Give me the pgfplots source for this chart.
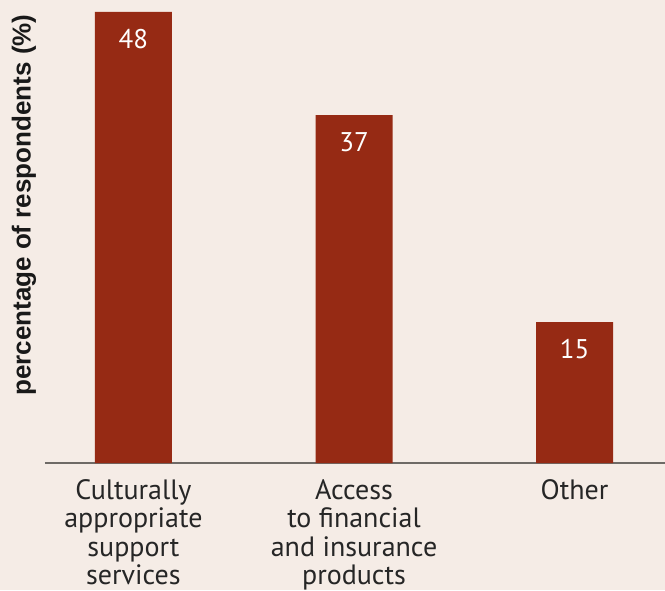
\documentclass[border=0pt]{standalone}
\usepackage{pgfplots}
\pgfplotsset{compat=1.18}
\usepackage{fontspec}
\setmainfont{PT Sans}
\newfontfamily\labfont{Liberation Sans}
\definecolor{bg}{HTML}{F5ECE6}
\definecolor{barc}{HTML}{962A14}
\definecolor{axc}{HTML}{6E6A66}
\begin{document}
\begin{tikzpicture}[x=1pt,y=1pt]
\fill[bg] (-45,-127) rectangle (620,463);
\path[use as bounding box] (-45,-127) rectangle (620,463);
\begin{axis}[
  at={(0,0)}, anchor=south west,
  scale only axis, width=620pt, height=463pt,
  xmin=-0.401, xmax=2.41, ymin=0, ymax=49.26,
  axis y line=none,
  axis x line*=bottom,
  x axis line style={axc, line width=1.5pt, -},
  xtick={0,1,2}, major tick length=0pt,
  xticklabels={{Culturally\\appropriate\\support\\services},{Access\\to financial\\and insurance\\products},{Other}},
  xticklabel style={align=center, font=\fontsize{28}{28.5}\selectfont, text=black!85, anchor=north, yshift=-13pt},
  ytick=\empty,
  clip=false,
]
\addplot[ybar, bar width=77pt, fill=barc, draw=none,
  nodes near coords, point meta=y,
  nodes near coords style={anchor=north, yshift=-14pt, text=white, font=\fontsize{27}{28}\selectfont, /pgf/number format/assume math mode=true}]
  coordinates {(0,48) (1,37) (2,15)};
\node[rotate=90, anchor=center, font=\labfont\bfseries\fontsize{26}{28}\selectfont, text=black!90] at (axis description cs:-0.034,0.557) {percentage of respondents (\%)};
\end{axis}
\end{tikzpicture}
\end{document}
